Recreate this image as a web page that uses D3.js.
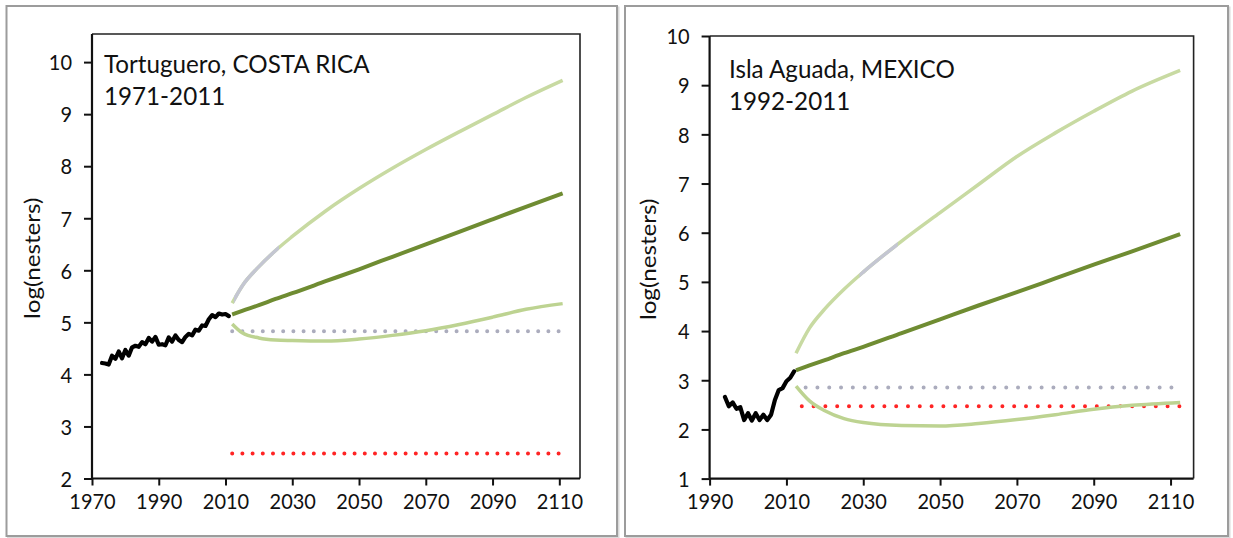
<!DOCTYPE html>
<html>
<head>
<meta charset="utf-8">
<script src="https://cdn.jsdelivr.net/npm/d3@7"></script>
<style>
  html, body { margin: 0; padding: 0; background: #fff; }
  svg { display: block; }
  text { font-family: Lato, "Open Sans", sans-serif; fill: #111; }
</style>
</head>
<body>
<svg id="chart" width="1233" height="538"></svg>
<script>
// ---- Tortuguero, COSTA RICA ----
const tortYears = [1973,1974,1975,1976,1977,1978,1979,1980,1981,1982,1983,1984,1985,1986,1987,1988,1989,1990,1991,1992,1993,1994,1995,1996,1997,1998,1999,2000,2001,2002,2003,2004,2005,2006,2007,2008,2009,2010,2011];
const tortNesters = [4.22,4.21,4.19,4.36,4.30,4.44,4.31,4.47,4.36,4.52,4.55,4.53,4.62,4.58,4.70,4.63,4.72,4.57,4.58,4.56,4.71,4.63,4.75,4.66,4.62,4.72,4.78,4.75,4.86,4.84,4.94,4.93,5.06,5.14,5.10,5.17,5.15,5.16,5.12];
const tortProjYears = [2012,2015,2020,2025,2030,2040,2050,2060,2070,2080,2090,2100,2111];
const tortUpper  = [5.37,5.70,6.07,6.38,6.65,7.14,7.57,7.96,8.32,8.66,8.99,9.32,9.65];
const tortMean   = [5.15,5.22,5.33,5.45,5.56,5.79,6.02,6.26,6.50,6.74,6.98,7.22,7.48];
const tortLower  = [4.97,4.80,4.70,4.66,4.65,4.64,4.68,4.75,4.84,4.96,5.10,5.25,5.36];
const tortUpperGreySpan = [2012.5, 2026];
const tortGrayLevel = 4.83, tortGraySpan = [2012, 2110];
const tortRedLevel = 2.48,  tortRedSpan = [2012, 2110];
const tortXTicks = [1970,1990,2010,2030,2050,2070,2090,2110];
const tortYTicks = [2,3,4,5,6,7,8,9,10];

// ---- Isla Aguada, MEXICO ----
const islaYears = [1994,1995,1996,1997,1998,1999,2000,2001,2002,2003,2004,2005,2006,2007,2008,2009,2010,2011,2012];
const islaNesters = [2.66,2.47,2.55,2.42,2.45,2.19,2.33,2.18,2.33,2.19,2.30,2.19,2.30,2.60,2.80,2.84,2.98,3.05,3.18];
const islaProjYears = [2012.5,2016,2020,2025,2030,2040,2050,2060,2070,2080,2090,2100,2112.5];
const islaUpper  = [3.55,4.06,4.45,4.85,5.20,5.83,6.41,6.98,7.55,8.03,8.47,8.88,9.30];
const islaMean   = [3.20,3.30,3.41,3.55,3.68,3.96,4.24,4.52,4.79,5.07,5.35,5.62,5.97];
const islaLower  = [2.88,2.58,2.38,2.22,2.14,2.08,2.07,2.12,2.20,2.30,2.41,2.49,2.55];
const islaUpperGreySpan = [2029, 2039];
const islaGrayLevel = 2.85, islaGraySpan = [2015, 2112.5];
const islaRedLevel = 2.47,  islaRedSpan = [2014, 2112.5];
const islaXTicks = [1990,2010,2030,2050,2070,2090,2110];
const islaYTicks = [1,2,3,4,5,6,7,8,9,10];

const panels = [
  {
    id: "tort",
    title: ["Tortuguero, COSTA RICA", "1971-2011"],
    frame: [6.5, 6, 617, 536],
    plot: {left: 92, right: 580, top: 34, bottom: 478.5},
    xDomain: [1970, 2116.2], yDomain: [2, 10.54],
    years: tortYears, obs: tortNesters,
    projYears: tortProjYears, upper: tortUpper, mean: tortMean, lower: tortLower,
    upperGrey: tortUpperGreySpan,
    gray: {level: tortGrayLevel, span: tortGraySpan},
    red: {level: tortRedLevel, span: tortRedSpan},
    xTicks: tortXTicks, yTicks: tortYTicks,
    dotGap: 10.2, titleX: 104, titleY: 73, ylabX: 32
  },
  {
    id: "isla",
    title: ["Isla Aguada, MEXICO", "1992-2011"],
    frame: [625, 6, 1228, 536],
    plot: {left: 709.6, right: 1193.6, top: 36, bottom: 478.6},
    xDomain: [1990, 2116], yDomain: [1, 10],
    years: islaYears, obs: islaNesters,
    projYears: islaProjYears, upper: islaUpper, mean: islaMean, lower: islaLower,
    upperGrey: islaUpperGreySpan,
    gray: {level: islaGrayLevel, span: islaGraySpan},
    red: {level: islaRedLevel, span: islaRedSpan},
    xTicks: islaXTicks, yTicks: islaYTicks,
    dotGap: 11.8, titleX: 729, titleY: 78, ylabX: 648.5
  }
];

const svg = d3.select("#chart");
const defs = svg.append("defs");
const stretch = 1.08;   // tick labels are drawn slightly tall

panels.forEach(p => {
  const g = svg.append("g");

  // outer panel border with a soft shadow
  const [fx0, fy0, fx1, fy1] = p.frame;
  g.append("rect").attr("x", fx0 + 1.5).attr("y", fy0 + 1.5)
    .attr("width", fx1 - fx0).attr("height", fy1 - fy0)
    .attr("fill", "none").attr("stroke", "#dadada").attr("stroke-width", 2);
  g.append("rect").attr("x", fx0).attr("y", fy0)
    .attr("width", fx1 - fx0).attr("height", fy1 - fy0)
    .attr("fill", "#fff").attr("stroke", "#9c9c9c").attr("stroke-width", 2);

  const x = d3.scaleLinear().domain(p.xDomain).range([p.plot.left, p.plot.right]);
  const y = d3.scaleLinear().domain(p.yDomain).range([p.plot.bottom, p.plot.top]);

  // plot area frame (top and right)
  g.append("path")
    .attr("d", `M${p.plot.left},${p.plot.top}H${p.plot.right}V${p.plot.bottom}`)
    .attr("fill", "none").attr("stroke", "#222").attr("stroke-width", 1.6);

  // axes
  const xAxis = d3.axisBottom(x).tickValues(p.xTicks).tickFormat(d3.format("d"))
    .tickSizeInner(7).tickSizeOuter(0).tickPadding(8);
  const yAxis = d3.axisLeft(y).tickValues(p.yTicks).tickFormat(d3.format("d"))
    .tickSizeInner(8).tickSizeOuter(0).tickPadding(12);

  const gx = g.append("g").attr("transform", `translate(0,${p.plot.bottom})`).call(xAxis);
  const gy = g.append("g").attr("transform", `translate(${p.plot.left},0)`).call(yAxis);
  [gx, gy].forEach(a => {
    a.select(".domain").attr("stroke", "#111").attr("stroke-width", 2.2);
    a.selectAll(".tick line").attr("stroke", "#111").attr("stroke-width", 2);
    a.selectAll(".tick text").attr("font-size", 20).attr("fill", "#111")
      .attr("font-family", "Lato, sans-serif")
      .attr("transform", `scale(1,${stretch})`);
  });
  gx.selectAll(".tick text").attr("y", 14 / stretch).attr("dy", "0.75em");
  gy.selectAll(".tick text").attr("dy", "0.36em");
  gy.select(".domain").attr("d", `M0,${p.plot.bottom}V${p.plot.top}`);
  gx.select(".domain").attr("d", `M${p.plot.left},0H${p.plot.right}`);

  // y-axis title
  g.append("text")
    .attr("transform", `translate(${p.ylabX},${(p.plot.top + p.plot.bottom) / 2 + 2}) rotate(-90) scale(1.1,1)`)
    .attr("text-anchor", "middle").attr("dy", "0.35em")
    .attr("font-size", 22).text("log(nesters)");

  // site name and years
  g.append("text").attr("x", p.titleX).attr("y", p.titleY)
    .attr("font-size", 24.2).text(p.title[0]);
  g.append("text").attr("x", p.titleX).attr("y", p.titleY + 31.5)
    .attr("font-size", 24.2).text(p.title[1]);

  // horizontal dotted reference levels
  const dotted = (ref, color) => {
    g.append("path")
      .datum(ref.span)
      .attr("d", d3.line().x(d => x(d)).y(() => y(ref.level)))
      .attr("fill", "none").attr("stroke", color).attr("stroke-width", 4)
      .attr("stroke-linecap", "round")
      .attr("stroke-dasharray", `0 ${p.dotGap}`);
  };
  dotted(p.gray, "#abacbd");
  dotted(p.red, "#ff2424");

  // projected trajectories
  const proj = d3.line().x(d => x(d[0])).y(d => y(d[1])).curve(d3.curveMonotoneX);
  const pairs = vals => p.projYears.map((yr, i) => [yr, vals[i]]);
  g.append("path").datum(pairs(p.lower)).attr("d", proj)
    .attr("fill", "none").attr("stroke", "#bdd391").attr("stroke-width", 3.5);
  g.append("path").datum(pairs(p.upper)).attr("d", proj)
    .attr("fill", "none").attr("stroke", "#c8daa2").attr("stroke-width", 3.5);

  // short greyish stretch of the upper trajectory
  const clipId = `grey-${p.id}`;
  defs.append("clipPath").attr("id", clipId).append("rect")
    .attr("x", x(p.upperGrey[0])).attr("width", x(p.upperGrey[1]) - x(p.upperGrey[0]))
    .attr("y", p.plot.top).attr("height", p.plot.bottom - p.plot.top);
  g.append("path").datum(pairs(p.upper)).attr("d", proj)
    .attr("clip-path", `url(#${clipId})`)
    .attr("fill", "none").attr("stroke", "#c4c6d2").attr("stroke-width", 3.5);

  g.append("path").datum(pairs(p.mean)).attr("d", proj)
    .attr("fill", "none").attr("stroke", "#6f8c32").attr("stroke-width", 4);

  // observed nesters
  const obsLine = d3.line().x(d => x(d[0])).y(d => y(d[1]));
  g.append("path").datum(p.years.map((yr, i) => [yr, p.obs[i]])).attr("d", obsLine)
    .attr("fill", "none").attr("stroke", "#000").attr("stroke-width", 4.2)
    .attr("stroke-linejoin", "round").attr("stroke-linecap", "round");
});
</script>
</body>
</html>
